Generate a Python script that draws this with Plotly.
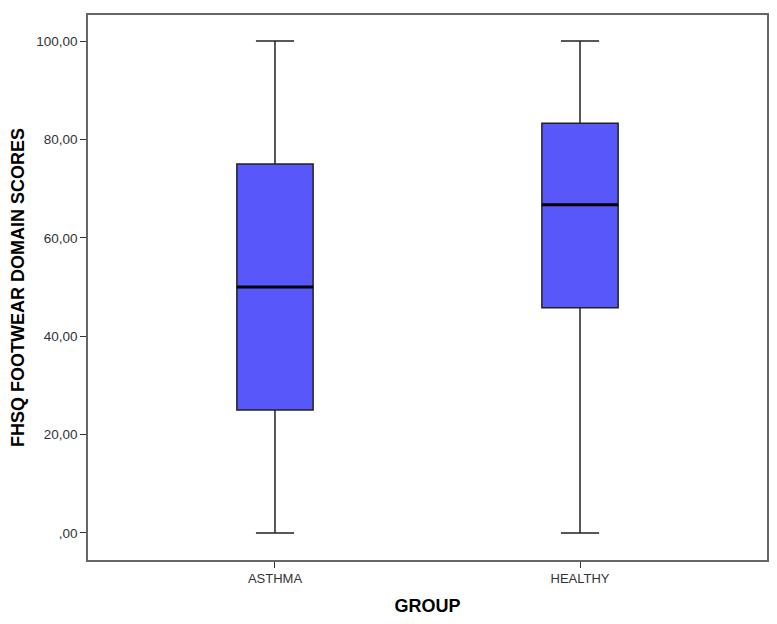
import plotly.graph_objects as go

# Dane
groups = ['ASTHMA', 'HEALTHY']
minimum = [0, 0]
q1 = [25, 45.8]
median = [50, 66.7]
q3 = [75, 83.3]
maximum = [100, 100]

y_ticks = [0, 20, 40, 60, 80, 100]
y_tick_labels = [',00', '20,00', '40,00', '60,00', '80,00', '100,00']

font_family = 'Arial, Liberation Sans, sans-serif'

fig = go.Figure()

# Pudełka
fig.add_trace(go.Box(
    x=groups,
    q1=q1,
    median=median,
    q3=q3,
    lowerfence=minimum,
    upperfence=maximum,
    width=0.25,
    whiskerwidth=0.5,
    fillcolor='#5757FA',
    line=dict(color='#222222', width=1.5),
    boxpoints=False,
    hoverinfo='skip',
    showlegend=False,
))

# Gruba linia mediany (pudełko o zerowej wysokości)
fig.add_trace(go.Box(
    x=groups,
    q1=median,
    median=median,
    q3=median,
    lowerfence=median,
    upperfence=median,
    width=0.25,
    whiskerwidth=0,
    fillcolor='rgba(0,0,0,0)',
    line=dict(color='black', width=3),
    boxpoints=False,
    hoverinfo='skip',
    showlegend=False,
))

# Strona ma domyślny margines 8 px, więc figura jest o tyle mniejsza
fig.update_layout(
    width=769,
    height=616,
    margin=dict(l=80, r=10, t=5, b=64),
    paper_bgcolor='white',
    plot_bgcolor='white',
    font=dict(family=font_family, size=12, color='#333333'),
    xaxis=dict(
        range=[-0.613, 1.613],
        showline=True, mirror=True, linecolor='#666666', linewidth=1.5,
        ticks='outside', ticklen=6, tickcolor='#333333',
        showgrid=False, zeroline=False,
        tickfont=dict(size=13, color='#333333'),
        title=dict(text='<b>GROUP</b>', font=dict(size=18, color='black'), standoff=14),
    ),
    yaxis=dict(
        range=[-5.5, 105.3],
        tickvals=y_ticks,
        ticktext=y_tick_labels,
        showline=True, mirror=True, linecolor='#666666', linewidth=1.5,
        ticks='outside', ticklen=6, tickcolor='#333333',
        showgrid=False, zeroline=False,
        tickfont=dict(size=13.5, color='#333333'),
        title=dict(text='<b>FHSQ FOOTWEAR DOMAIN SCORES</b>', font=dict(size=18, color='black'), standoff=10),
    ),
)

fig.write_html('out.html')
